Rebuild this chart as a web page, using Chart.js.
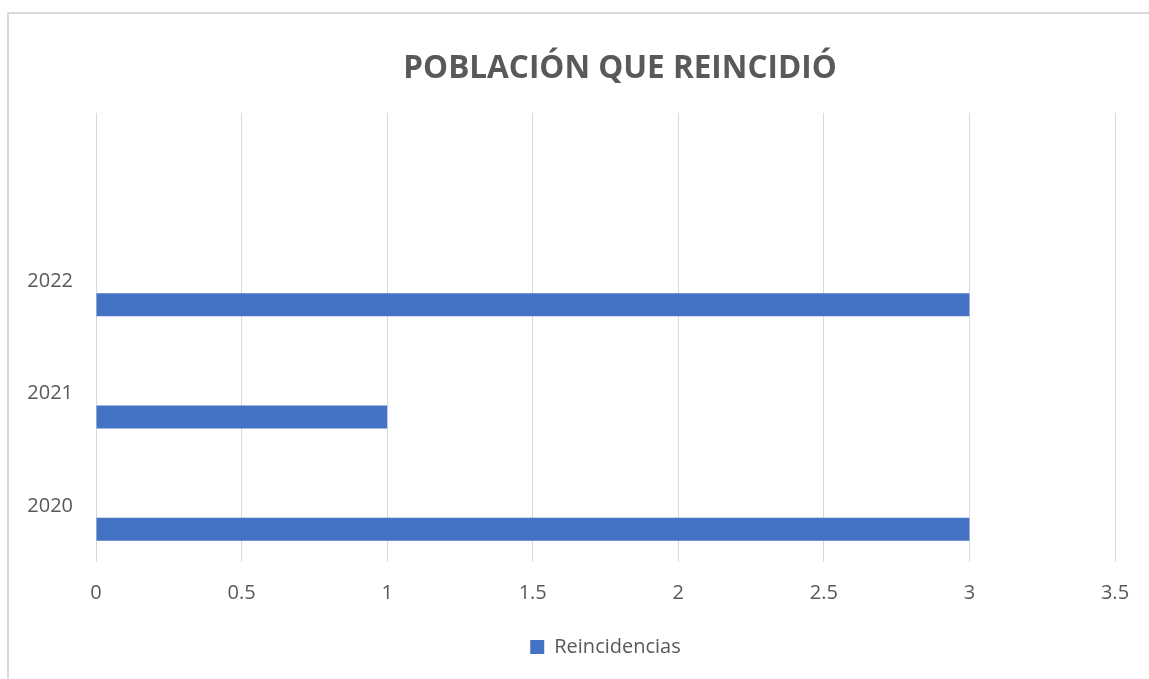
<!DOCTYPE html>
<html lang="es">
<head>
<meta charset="utf-8">
<title>Población que reincidió</title>
<script src="https://cdn.jsdelivr.net/npm/chart.js@4.4.0/dist/chart.umd.min.js"></script>
<style>
    html, body { margin: 0; padding: 0; background: #ffffff; overflow: hidden; }
    body { width: 1149px; height: 679px; position: relative; }
    /* marco gris del gráfico, se sale por la derecha y por abajo como en la captura */
    .marco {
        position: absolute; left: 7px; top: 12px;
        width: 1200px; height: 720px;
        border: 2px solid #d9d9d9;
        box-sizing: border-box;
    }
    .lienzo { position: absolute; left: 0; top: 0; width: 1240px; height: 679px; }
</style>
</head>
<body>
<div class="marco"></div>
<div class="lienzo"><canvas id="grafico-reincidencias"></canvas></div>
<script>
// Datos (la primera categoría está vacía, como en el Excel original)
const categorias = ["", "2022", "2021", "2020"];
const reincidencias = [null, 3, 1, 3];
const serieVacia = [null, null, null, null];
const ticksEjeX = [0, 0.5, 1, 1.5, 2, 2.5, 3, 3.5];

const grisTexto = "#595959";
const azulBarra = "#4472C4";
const fuente = "'Open Sans', 'Liberation Sans', sans-serif";

function initGraficoReincidencias() {
    const canvas = document.getElementById("grafico-reincidencias");
    if (typeof Chart === "undefined") {
        console.error("Chart.js no se ha cargado.");
        return;
    }
    canvas.width = 1240;
    canvas.height = 679;

    new Chart(canvas.getContext("2d"), {
        type: "bar",
        data: {
            labels: categorias,
            datasets: [
                {
                    label: "",
                    data: serieVacia,
                    backgroundColor: "rgba(0,0,0,0)"
                },
                {
                    label: "Reincidencias",
                    data: reincidencias,
                    backgroundColor: azulBarra,
                    borderWidth: 0
                }
            ]
        },
        options: {
            indexAxis: "y",
            responsive: false,
            animation: false,
            devicePixelRatio: 1,
            categoryPercentage: 0.836,
            barPercentage: 0.49,
            layout: { padding: { left: 0, right: 0, top: 0, bottom: 12 } },
            scales: {
                x: {
                    type: "linear",
                    min: 0,
                    max: 3.5,
                    afterBuildTicks: (scale) => {
                        scale.ticks = ticksEjeX.map(v => ({ value: v }));
                    },
                    afterFit: (scale) => { scale.height = 65; },
                    grid: { color: "#d9d9d9", lineWidth: 1, drawTicks: false },
                    border: { display: false },
                    ticks: {
                        color: grisTexto,
                        padding: 19,
                        font: { family: fuente, size: 20 },
                        maxRotation: 0,
                        callback: (v) => String(v)
                    }
                },
                y: {
                    afterFit: (scale) => { scale.width = 96; },
                    grid: { display: false, drawTicks: false },
                    border: { display: false },
                    ticks: {
                        color: grisTexto,
                        padding: 23,
                        font: { family: fuente, size: 20 }
                    }
                },
                // eje vacío a la derecha: sólo reserva espacio para que el título quede centrado como en Excel
                margenDerecho: {
                    type: "linear",
                    position: "right",
                    afterFit: (scale) => { scale.width = 125; },
                    grid: { display: false, drawTicks: false },
                    border: { display: false },
                    ticks: { display: false }
                }
            },
            plugins: {
                title: {
                    display: true,
                    text: "POBLACIÓN QUE REINCIDIÓ",
                    color: grisTexto,
                    font: { family: fuente, size: 31.5, weight: "bold" },
                    padding: { top: 50, bottom: 25 }
                },
                legend: {
                    position: "bottom",
                    fullSize: false,
                    labels: {
                        color: grisTexto,
                        boxWidth: 14,
                        boxHeight: 14,
                        padding: 10,
                        font: { family: fuente, size: 20 },
                        filter: (item) => item.text !== ""
                    }
                },
                tooltip: { enabled: false }
            }
        }
    });
}

initGraficoReincidencias();
</script>
</body>
</html>
